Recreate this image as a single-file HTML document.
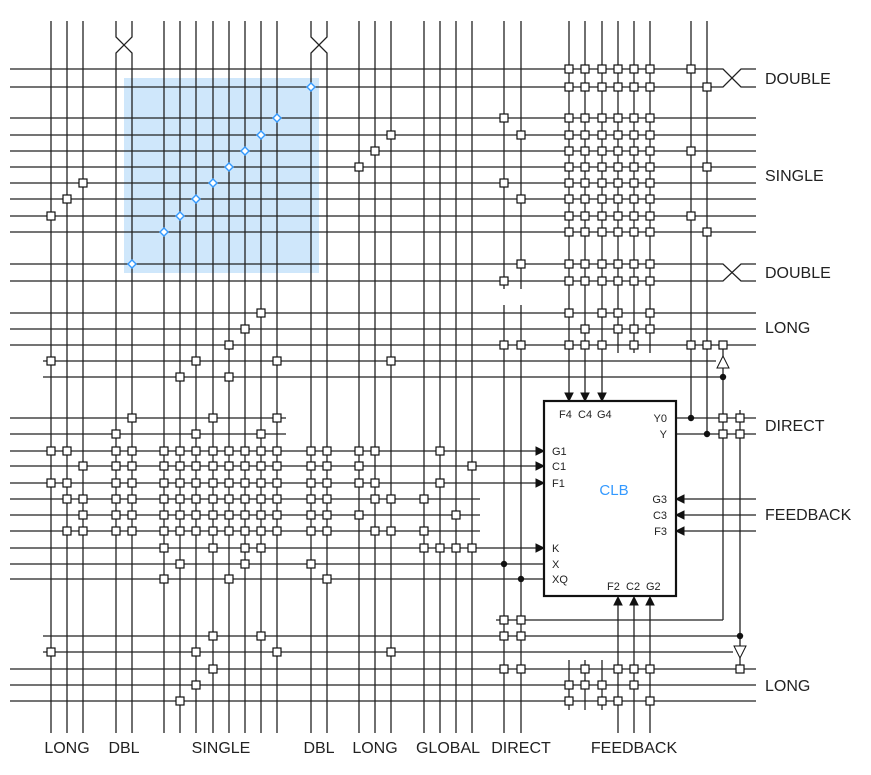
<!DOCTYPE html>
<html><head><meta charset="utf-8"><style>
html,body{margin:0;padding:0;background:#fff;}
svg{display:block;font-family:"Liberation Sans",Arial,sans-serif;}
</style></head><body>
<svg id="s" width="871" height="775" viewBox="0 0 871 775" xmlns="http://www.w3.org/2000/svg">
<rect x="124" y="78" width="195" height="195" fill="#cfe7fb"/>
<g id="g" stroke="#222" stroke-width="1.3" fill="none"></g>
<g id="b"></g>
<g font-size="16" fill="#222">
<text x="765" y="84">DOUBLE</text>
<text x="765" y="181">SINGLE</text>
<text x="765" y="278">DOUBLE</text>
<text x="765" y="333">LONG</text>
<text x="765" y="431">DIRECT</text>
<text x="765" y="520">FEEDBACK</text>
<text x="765" y="691">LONG</text>
<text x="67" y="753" text-anchor="middle">LONG</text>
<text x="124" y="753" text-anchor="middle">DBL</text>
<text x="221" y="753" text-anchor="middle">SINGLE</text>
<text x="319" y="753" text-anchor="middle">DBL</text>
<text x="375" y="753" text-anchor="middle">LONG</text>
<text x="448" y="753" text-anchor="middle">GLOBAL</text>
<text x="521" y="753" text-anchor="middle">DIRECT</text>
<text x="634" y="753" text-anchor="middle">FEEDBACK</text>
</g>
<g font-size="11" fill="#222">
<text x="559" y="418">F4</text><text x="578" y="418">C4</text><text x="597" y="418">G4</text>
<text x="667" y="422" text-anchor="end">Y0</text>
<text x="667" y="438" text-anchor="end">Y</text>
<text x="552" y="455">G1</text><text x="552" y="470">C1</text><text x="552" y="487">F1</text>
<text x="552" y="552">K</text><text x="552" y="568">X</text><text x="552" y="583">XQ</text>
<text x="667" y="503" text-anchor="end">G3</text>
<text x="667" y="519" text-anchor="end">C3</text>
<text x="667" y="535" text-anchor="end">F3</text>
<text x="607" y="590">F2</text><text x="626" y="590">C2</text><text x="646" y="590">G2</text>
</g>
<text x="614" y="495" font-size="15" fill="#3399ff" text-anchor="middle">CLB</text>
</svg>
<script>
var NS="http://www.w3.org/2000/svg",g=document.getElementById('g'),b=document.getElementById('b');
function el(p,t,a){var e=document.createElementNS(NS,t);for(var k in a)e.setAttribute(k,a[k]);p.appendChild(e);return e;}
function L(x1,y1,x2,y2){el(g,'line',{x1:x1,y1:y1,x2:x2,y2:y2});}
function P(d,f){el(b,'path',{d:d,fill:f||'#111',stroke:'#111','stroke-width':1});}
var S=[164,180,196,213,229,245,261,277];
[51,67,83].concat(S,[359,375,391,424,440,456,472]).forEach(function(x){L(x,21,x,733);});
[[116,132],[311,327]].forEach(function(p){var a=p[0],c=p[1];
 el(g,'polyline',{points:a+',21 '+a+',37 '+c+',53 '+c+',733'});
 el(g,'polyline',{points:c+',21 '+c+',37 '+a+',53 '+a+',733'});});
[504,521].forEach(function(x){L(x,21,x,289);L(x,305,x,733);});
[569,585,602].forEach(function(x){L(x,21,x,394);L(x,660,x,710);P('M'+(x-4)+',393 L'+(x+4)+',393 L'+x+',401Z');});
[618,634,650].forEach(function(x){L(x,21,x,353);L(x,604,x,733);P('M'+(x-4)+',605 L'+(x+4)+',605 L'+x+',597Z');});
L(691,21,691,418);L(707,21,707,434);
L(723,345,723,356);L(723,368,723,620);
L(740,410,740,646);L(740,658,740,669);
[[69,87],[264,281]].forEach(function(p){var a=p[0],c=p[1];
 el(g,'polyline',{points:'10,'+a+' 723,'+a+' 741,'+c+' 756,'+c});
 el(g,'polyline',{points:'10,'+c+' 723,'+c+' 741,'+a+' 756,'+a});});
[118,135,151,167,183,199,216,232,313,329,345,669,685,701].forEach(function(y){L(10,y,756,y);});
L(43,361,716,361);L(43,377,723,377);
[418,434].forEach(function(y){L(10,y,286,y);L(676,y,756,y);});
[451,466,483,548].forEach(function(y){L(10,y,536,y);P('M536,'+(y-4)+' L536,'+(y+4)+' L544,'+y+'Z');});
[499,515,531].forEach(function(y){L(10,y,480,y);L(684,y,756,y);P('M684,'+(y-4)+' L684,'+(y+4)+' L676,'+y+'Z');});
L(10,564,544,564);L(10,579,544,579);
L(496,620,723,620);L(43,636,740,636);L(43,652,733,652);
el(b,'rect',{x:544,y:401,width:132,height:195,fill:'none',stroke:'#111','stroke-width':2.2});
P('M717,368 L729,368 L723,356Z','#fff');P('M734,646 L746,646 L740,658Z','#fff');
[[691,418],[707,434],[723,377],[740,636],[504,564],[521,579]].forEach(function(d){el(b,'circle',{cx:d[0],cy:d[1],r:3.2,fill:'#111'});});
var T=[569,585,602,618,634,650];
var B={
69:T.concat([691]),87:T.concat([707]),118:[504].concat(T),135:[521].concat(T),151:T.concat([691]),167:T.concat([707]),
183:[83,504].concat(T),199:[67,521].concat(T),216:[51].concat(T,[691]),232:T.concat([707]),264:[521].concat(T),281:[504].concat(T),
313:[261,569,602,618,650],329:[245,585,618,634,650],345:[229,504,521,569,585,602,634,691,707,723],
361:[51,196,277,391],377:[180,229],
418:[132,213,277],434:[116,196,261],
451:[51,67,116,132].concat(S,[311,327,359,375,440]),
466:[83,116,132].concat(S,[311,327,359,472]),
483:[51,67,116,132].concat(S,[311,327,359,375,440]),
499:[67,83,116,132].concat(S,[311,327,375,391,424]),
515:[83,116,132].concat(S,[311,327,359,456]),
531:[67,83,116,132].concat(S,[311,327,375,391,424]),
548:[164,213,245,261,424,440,456,472],564:[180,245,311],579:[164,229,327],
620:[504,521],636:[213,261,504,521],652:[51,196,277,391],
669:[213,504,521,585,618,634,650,740],685:[196,569,585,602,634],701:[180,569,602,618,650],
135.1:[391],151.1:[375],167.1:[359]};
for(var k in B){var y=Math.round(parseFloat(k));B[k].forEach(function(x){el(b,'rect',{x:x-4,y:y-4,width:8,height:8,fill:'#fff',stroke:'#111','stroke-width':1.2});});}
[[723,418],[740,418],[723,434],[740,434]].forEach(function(d){el(b,'rect',{x:d[0]-4,y:d[1]-4,width:8,height:8,fill:'#fff',stroke:'#111','stroke-width':1.2});});
[[311,87],[277,118],[261,135],[245,151],[229,167],[213,183],[196,199],[180,216],[164,232],[132,264]].forEach(function(d){
 var x=d[0],y=d[1];el(b,'path',{d:'M'+x+','+(y-4)+' L'+(x+4)+','+y+' L'+x+','+(y+4)+' L'+(x-4)+','+y+'Z',fill:'#fff',stroke:'#3399ff','stroke-width':1.4});});
</script>
</body></html>
